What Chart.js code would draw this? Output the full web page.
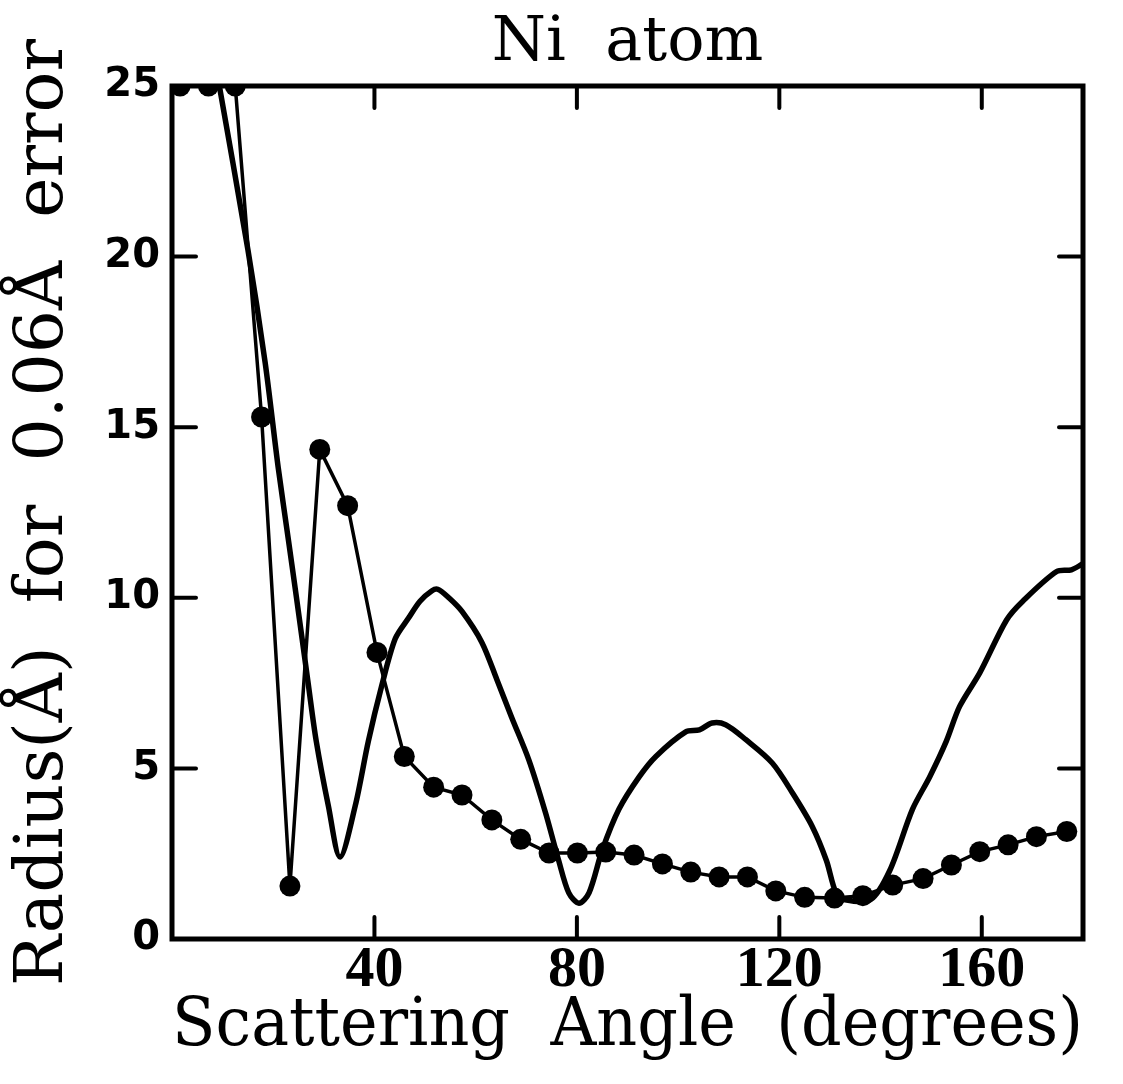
<!DOCTYPE html>
<html>
<head>
<meta charset="utf-8">
<script src="https://cdn.jsdelivr.net/npm/chart.js@4.4.1/dist/chart.umd.min.js"></script>
<style>
  body { margin: 0; background: #fff; }
  canvas { display: block; }
</style>
</head>
<body>
<canvas id="chart" width="1123" height="1084"></canvas>
<script>
// dotted curve (thin line with filled circles)
const dotAngles = [1.6, 7.2, 12.5, 17.7, 23.3, 29.2, 34.7, 40.5, 45.9, 51.7, 57.3, 63.2,
    68.9, 74.5, 80.1, 85.7, 91.3, 96.9, 102.5, 108.1, 113.7, 119.3, 125.0, 130.9,
    136.5, 142.4, 148.4, 154.0, 159.6, 165.2, 170.8, 176.8];
const dotRadius = [25, 25, 25, 15.3, 1.55, 14.35, 12.7, 8.4, 5.35, 4.45, 4.22, 3.49,
    2.92, 2.52, 2.52, 2.55, 2.46, 2.2, 1.96, 1.82, 1.82, 1.41, 1.22, 1.2,
    1.27, 1.58, 1.77, 2.17, 2.56, 2.76, 3.0, 3.15];

// heavy solid curve
const lineAngles = [9.0, 15.0, 18.4, 21.0, 23.0, 24.6, 26.9, 28.5, 30.9, 33.2,
    36.2, 38.8, 41.4, 44.1, 46.7, 49.0, 51.3, 52.5, 54.7, 57.3, 61.2, 64.2, 67.1,
    70.5, 73.8, 76.4, 78.4, 80.4, 82.4, 85.0, 88.3, 92.3, 95.6, 101.5, 104.2,
    106.7, 109.4, 113.4, 118.6, 122.6, 126.5, 129.3, 131.2, 133.0, 138.0, 141.8,
    146.3, 149.7, 153.0, 155.6, 159.6, 164.9, 168.1, 174.8, 177.7, 180.0];
const lineRadius = [25.3, 20.2, 16.9, 13.8, 11.7, 10.0, 7.5, 5.8, 3.9, 2.4,
    3.9, 5.8, 7.4, 8.8, 9.4, 9.9, 10.2, 10.25, 10.0, 9.6, 8.7, 7.6, 6.5,
    5.25, 3.7, 2.3, 1.35, 1.05, 1.35, 2.6, 3.8, 4.75, 5.35, 6.07, 6.13,
    6.33, 6.28, 5.84, 5.16, 4.28, 3.3, 2.3, 1.35, 1.15, 1.15, 2.0,
    3.8, 4.75, 5.8, 6.81, 7.8, 9.35, 9.9, 10.77, 10.82, 11.0];

const xTicks = [40, 80, 120, 160];
const yTicks = [0, 5, 10, 15, 20, 25];

const toPoints = (xs, ys) => xs.map((v, i) => ({ x: v, y: ys[i] }));

// frame box and inward tick marks
const frame = {
    id: 'frame',
    afterDatasetsDraw(chart) {
        const { ctx, chartArea: a, scales: { x, y } } = chart;
        ctx.save();
        ctx.strokeStyle = '#000';
        ctx.lineWidth = 5;
        ctx.strokeRect(a.left, a.top, a.right - a.left, a.bottom - a.top);
        ctx.lineWidth = 4;
        ctx.lineCap = 'round';
        ctx.beginPath();
        xTicks.forEach(v => {
            const p = x.getPixelForValue(v);
            ctx.moveTo(p, a.bottom); ctx.lineTo(p, a.bottom - 22);
            ctx.moveTo(p, a.top); ctx.lineTo(p, a.top + 22);
        });
        yTicks.slice(1, -1).forEach(v => {
            const p = y.getPixelForValue(v);
            ctx.moveTo(a.left, p); ctx.lineTo(a.left + 24, p);
            ctx.moveTo(a.right, p); ctx.lineTo(a.right - 24, p);
        });
        ctx.stroke();
        ctx.restore();
    }
};

new Chart(document.getElementById('chart'), {
    type: 'line',
    data: {
        datasets: [{
            data: toPoints(dotAngles, dotRadius),
            borderColor: '#000',
            borderWidth: 3.5,
            pointRadius: 10.5,
            pointBackgroundColor: '#000',
            pointBorderWidth: 0,
            tension: 0
        }, {
            data: toPoints(lineAngles, lineRadius),
            borderColor: '#000',
            borderWidth: 5.5,
            pointRadius: 0,
            tension: 0.3
        }]
    },
    options: {
        responsive: false,
        animation: false,
        layout: { padding: { left: 0, right: 40, top: 0, bottom: 0 } },
        plugins: {
            legend: { display: false },
            tooltip: { enabled: false }
        },
        scales: {
            // top axis only carries the chart title, centred over the plot
            top: {
                type: 'linear',
                position: 'top',
                min: 0,
                max: 180,
                afterFit: s => { s.height = 86; },
                grid: { display: false, drawTicks: false },
                border: { display: false },
                ticks: { display: false },
                title: {
                    display: true,
                    text: 'Ni  atom',
                    color: '#000',
                    font: { family: 'DejaVu Serif', size: 62 },
                    padding: { top: 7, bottom: 0 }
                }
            },
            x: {
                type: 'linear',
                min: 0,
                max: 180,
                afterBuildTicks: s => { s.ticks = xTicks.map(v => ({ value: v })); },
                afterFit: s => { s.height = 145; },
                grid: { display: false, drawTicks: false },
                border: { display: false },
                ticks: {
                    color: '#000',
                    padding: 3,
                    maxRotation: 0,
                    font: { family: 'Liberation Serif', size: 58, weight: 'bold', lineHeight: 1 }
                },
                title: {
                    display: true,
                    text: 'Scattering  Angle  (degrees)',
                    color: '#000',
                    font: { family: 'DejaVu Serif', size: 67 },
                    padding: { top: 0, bottom: 16 }
                }
            },
            y: {
                min: 0,
                max: 25,
                afterBuildTicks: s => { s.ticks = yTicks.map(v => ({ value: v })); },
                afterFit: s => { s.width = 172; },
                grid: { display: false, drawTicks: false },
                border: { display: false },
                ticks: {
                    color: '#000',
                    padding: 12,
                    font: { family: 'DejaVu Sans', size: 40, weight: 'bold' }
                },
                title: {
                    display: true,
                    text: 'Radius(Å)  for  0.06Å  error',
                    color: '#000',
                    font: { family: 'DejaVu Serif', size: 68 },
                    padding: { top: 4, bottom: 0 }
                }
            }
        }
    },
    plugins: [frame]
});
</script>
</body>
</html>
